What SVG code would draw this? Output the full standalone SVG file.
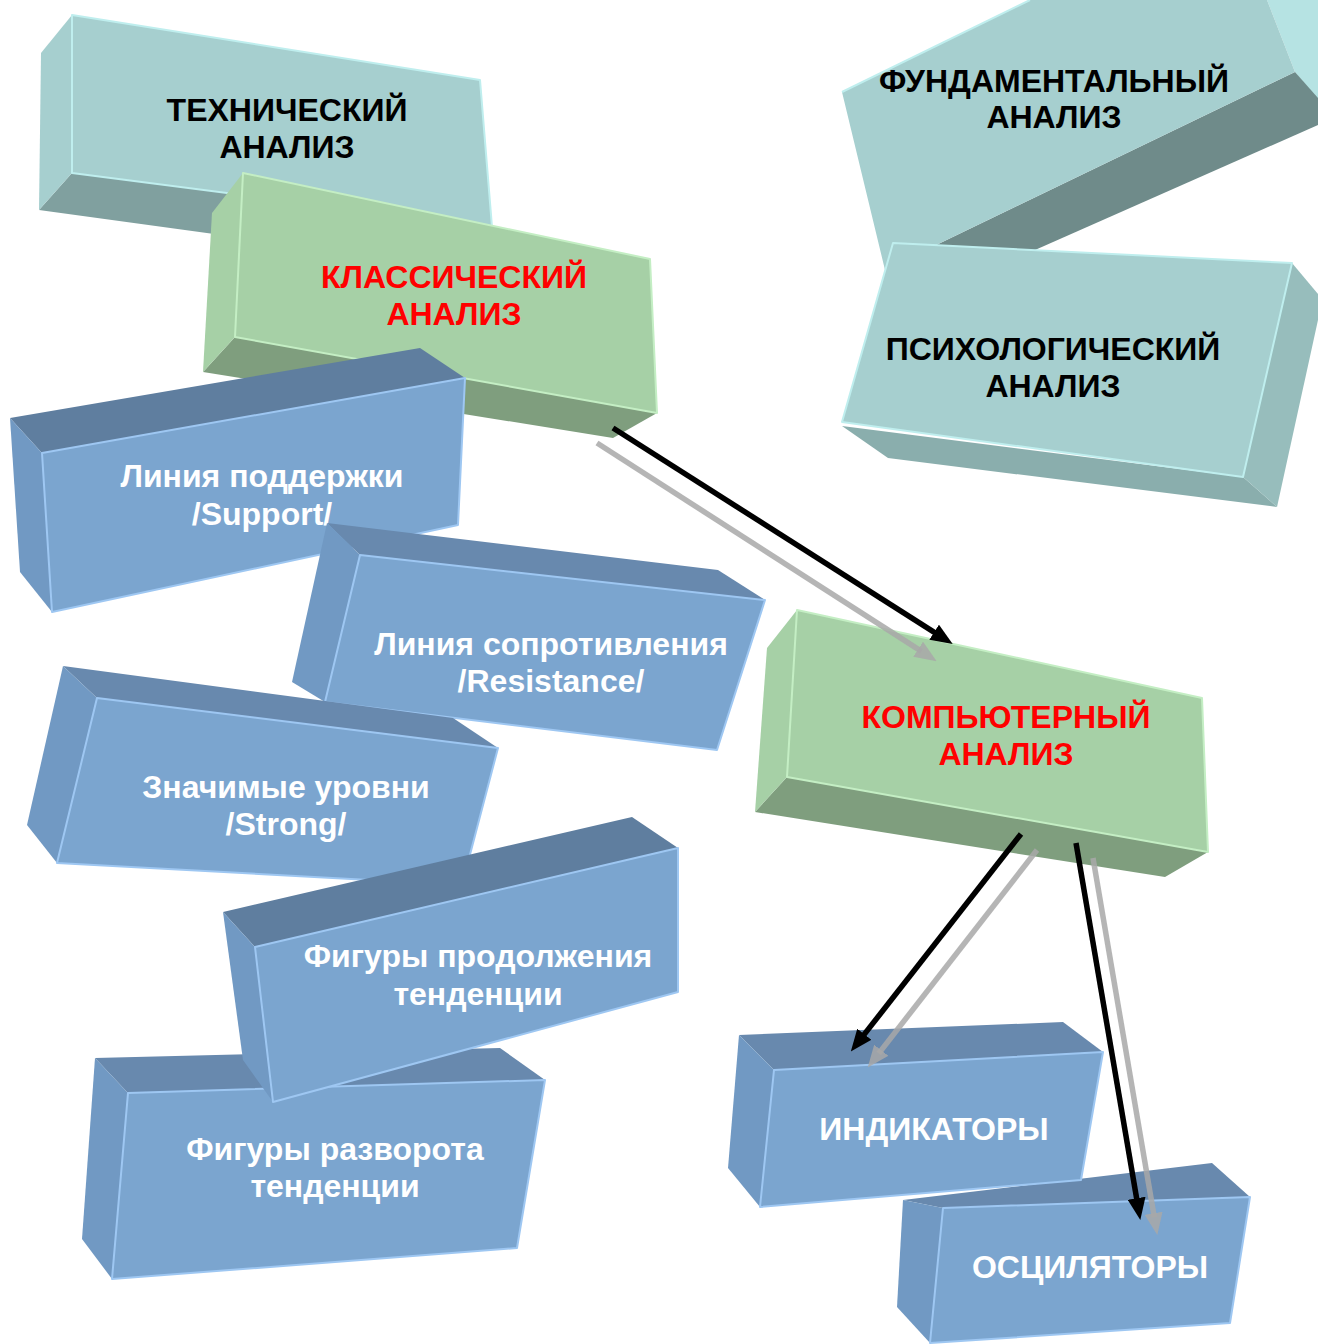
<svg xmlns="http://www.w3.org/2000/svg" width="1318" height="1344" viewBox="0 0 1318 1344">
<defs>
<style>
.t{font-family:"Liberation Sans",Arial,sans-serif;font-weight:bold;font-size:32px;text-anchor:middle}
.blk{fill:#000}
.red{fill:#ff0000}
.wht{fill:#ffffff}
.tf{fill:#a6cfcf}
.tfe{stroke:#bfeeee;stroke-width:2;stroke-linejoin:round}
.gf{fill:#a6d0a6;stroke:#c4eec4;stroke-width:2;stroke-linejoin:round}
.gd{fill:#7f9e7e}
.bf{fill:#7ba5cf;stroke:#9ec7f2;stroke-width:2;stroke-linejoin:round}
.bt{fill:#5f7e9f}
.bt2{fill:#6889ae}
.bl{fill:#7199c3}
.ab{fill:none;stroke:#000;stroke-width:5.5}
.ag{fill:none;stroke:#a8a8a8;stroke-opacity:0.85;stroke-width:5.5}
</style>
<marker id="hb" markerUnits="userSpaceOnUse" markerWidth="22" markerHeight="18" refX="4" refY="9" orient="auto" viewBox="0 0 22 18"><path d="M0,0 L22,9 L0,18 z" fill="#000"/></marker>
<marker id="hg" markerUnits="userSpaceOnUse" markerWidth="22" markerHeight="18" refX="4" refY="9" orient="auto" viewBox="0 0 22 18"><path d="M0,0 L22,9 L0,18 z" fill="#a8a8a8" fill-opacity="0.85"/></marker>
</defs>

<g id="technical">
<polygon points="72,173 492,227 462,268 39,210" fill="#80a09f"/>
<polygon points="41,53 72,15 72,173 39,210" class="tf"/>
<polygon points="72,15 480,80 492,227 72,173" class="tf tfe"/>
<text class="t blk" x="287" y="121">ТЕХНИЧЕСКИЙ</text>
<text class="t blk" x="287" y="158">АНАЛИЗ</text>
</g>

<g id="classic">
<polygon points="235,337 657,413 613,438 203,372" class="gd"/>
<polygon points="212,213 243,173 235,337 203,372" fill="#a6d0a6"/>
<polygon points="243,173 650,259 657,413 235,337" class="gf"/>
<text class="t red" x="454" y="288">КЛАССИЧЕСКИЙ</text>
<text class="t red" x="454" y="325">АНАЛИЗ</text>
</g>

<g id="fundamental">
<polygon points="1267,0 1318,0 1318,100 1295,72" fill="#b6e3e3"/>
<polygon points="1295,72 1318,98 1318,125 1035,250 930,248" fill="#6f8b8a"/>
<polygon points="842,92 1030,0 1267,0 1295,72 930,248 885,270" class="tf"/>
<polyline points="842,92 1030,0" fill="none" stroke="#bfeeee" stroke-width="2"/>
<text class="t blk" x="1054" y="92">ФУНДАМЕНТАЛЬНЫЙ</text>
<text class="t blk" x="1054" y="128">АНАЛИЗ</text>
</g>

<g id="psychological">
<polygon points="842,426 1243,477 1277,507 888,458" fill="#8aaead"/>
<polygon points="1292,263 1318,294 1318,320 1277,507 1243,477" fill="#97bdbc"/>
<polygon points="893,243 1292,263 1243,477 842,422" class="tf tfe"/>
<text class="t blk" x="1053" y="360">ПСИХОЛОГИЧЕСКИЙ</text>
<text class="t blk" x="1053" y="397">АНАЛИЗ</text>
</g>

<g id="support">
<polygon points="10,418 420,348 465,378 42,453" class="bt"/>
<polygon points="10,418 42,453 52,612 20,572" class="bl"/>
<polygon points="42,453 465,378 458,525 52,612" class="bf"/>
<text class="t wht" x="262" y="487">Линия поддержки</text>
<text class="t wht" x="262" y="525">/Support/</text>
</g>

<g id="resistance">
<polygon points="327,523 718,570 765,600 360,555" class="bt2"/>
<polygon points="327,523 360,555 325,702 292,682" class="bl"/>
<polygon points="360,555 765,600 717,750 325,702" class="bf"/>
<text class="t wht" x="551" y="655">Линия сопротивления</text>
<text class="t wht" x="551" y="692">/Resistance/</text>
</g>

<g id="strong">
<polygon points="63,666 453,718 498,748 97,698" class="bt2"/>
<polygon points="63,666 97,698 57,863 27,825" class="bl"/>
<polygon points="97,698 498,748 462,885 57,863" class="bf"/>
<text class="t wht" x="286" y="798">Значимые уровни</text>
<text class="t wht" x="286" y="835">/Strong/</text>
</g>

<g id="reversal">
<polygon points="95,1058 500,1048 545,1080 128,1093" class="bt2"/>
<polygon points="95,1058 128,1093 112,1279 82,1239" class="bl"/>
<polygon points="128,1093 545,1080 517,1248 112,1279" class="bf"/>
<text class="t wht" x="335" y="1160">Фигуры разворота</text>
<text class="t wht" x="335" y="1197">тенденции</text>
</g>

<g id="continuation">
<polygon points="223,912 632,817 678,848 255,947" class="bt"/>
<polygon points="223,912 255,947 273,1102 243,1060" class="bl"/>
<polygon points="255,947 678,848 678,992 273,1102" class="bf"/>
<text class="t wht" x="478" y="967">Фигуры продолжения</text>
<text class="t wht" x="478" y="1005">тенденции</text>
</g>

<g id="computer">
<polygon points="787,777 1208,852 1165,877 755,812" class="gd"/>
<polygon points="767,648 797,610 787,777 755,812" fill="#a6d0a6"/>
<polygon points="797,610 1202,698 1208,852 787,777" class="gf"/>
<text class="t red" x="1006" y="728">КОМПЬЮТЕРНЫЙ</text>
<text class="t red" x="1006" y="765">АНАЛИЗ</text>
</g>

<g id="oscillators">
<polygon points="903,1200 1212,1163 1250,1197 943,1208" class="bt2"/>
<polygon points="903,1200 943,1208 930,1343 897,1307" class="bl"/>
<polygon points="943,1208 1250,1197 1230,1323 930,1343" class="bf"/>
<text class="t wht" x="1090" y="1278">ОСЦИЛЯТОРЫ</text>
</g>

<g id="indicators">
<polygon points="739,1035 1063,1022 1103,1052 774,1070" class="bt2"/>
<polygon points="739,1035 774,1070 760,1207 728,1168" class="bl"/>
<polygon points="774,1070 1103,1052 1081,1180 760,1207" class="bf"/>
<text class="t wht" x="934" y="1140">ИНДИКАТОРЫ</text>
</g>

<g id="connectors">
<line class="ag" x1="597" y1="443" x2="921.5" y2="651.4" marker-end="url(#hg)"/>
<line class="ab" x1="613" y1="428" x2="937.5" y2="634.4" marker-end="url(#hb)"/>
<line class="ag" x1="1037" y1="850" x2="878.8" y2="1053.4" marker-end="url(#hg)"/>
<line class="ab" x1="1021" y1="834" x2="861.9" y2="1037.4" marker-end="url(#hb)"/>
<line class="ag" x1="1093" y1="858" x2="1154.3" y2="1217.2" marker-end="url(#hg)"/>
<line class="ab" x1="1076" y1="843" x2="1137.3" y2="1202.2" marker-end="url(#hb)"/>
</g>
</svg>
